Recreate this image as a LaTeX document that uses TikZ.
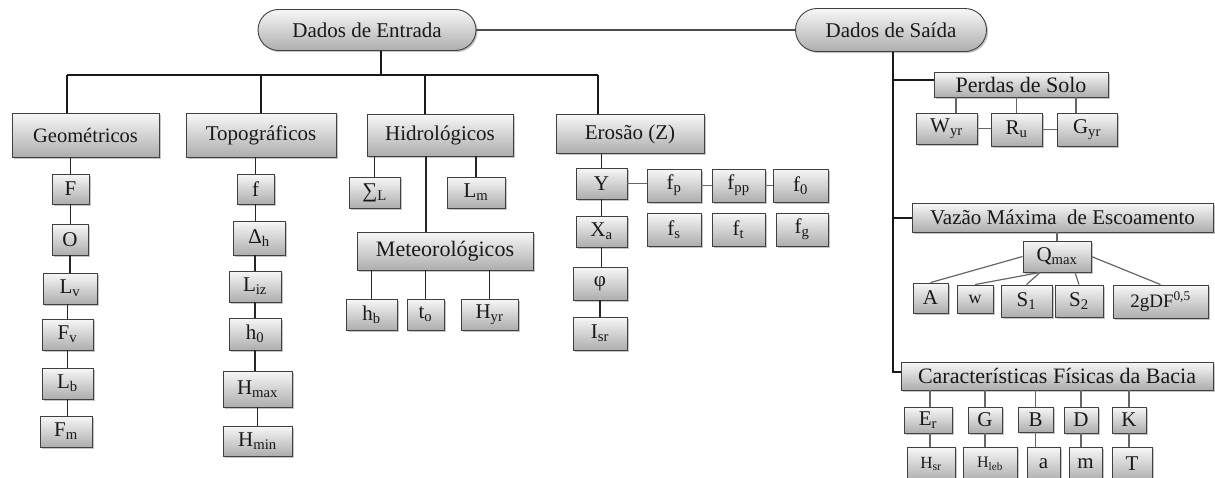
\documentclass[tikz,border=0pt]{standalone}
\usepackage{fontspec}
\setmainfont{Liberation Serif}
\usetikzlibrary{shapes.misc,shadows,calc}
\newcommand{\fsz}[1]{\fontsize{#1}{#1}\selectfont}
\begin{document}
\begin{tikzpicture}[x=1pt,y=-1pt,
  bx/.style={draw=black!75, line width=0.9pt, top color=black!3, bottom color=black!32,
    drop shadow={shadow xshift=1.6pt,shadow yshift=-1.6pt,opacity=0.45},
    inner sep=0pt, font=\fsz{21}, text=black!90},
  sz/.style 2 args={minimum width=#1 pt, minimum height=#2 pt},
  pill/.style={bx, rounded rectangle, rounded rectangle arc length=180},
  bus/.style={line width=2.2pt, black!90},
  chain/.style={line width=1.8pt, black!85},
  lnk/.style={line width=1.2pt, black!60}
]
\useasboundingbox (0,0) rectangle (1215,477);
\clip (0,0) rectangle (1215,477);

% top pills
\node[pill, sz={218}{41}] (din) at (367,30) {Dados de Entrada};
\node[pill, sz={191}{43}] (dout) at (891,30) {Dados de Saída};

% level 1
\node[bx, sz={147}{44}, font=\fsz{20.5}] (geo) at (85.5,135) {Geométricos};
\node[bx, sz={150}{44}] (topo) at (261,135) {Topográficos};
\node[bx, sz={146}{42}] (hid) at (440,135) {Hidrológicos};
\node[bx, sz={148}{39}] (ero) at (630,134) {Erosão (Z)};

% geometric children
\node[bx, sz={37}{30}] (F) at (70.5,189) {F};
\node[bx, sz={36}{31}] (O) at (70,239.5) {O};
\node[bx, sz={54}{31}] (Lv) at (70,288.5) {L\textsubscript{v}};
\node[bx, sz={51}{31}] (Fv) at (67.5,334.5) {F\textsubscript{v}};
\node[bx, sz={51}{31}] (Lb) at (67.5,383.5) {L\textsubscript{b}};
\node[bx, sz={52}{31}] (Fm) at (66,431.5) {F\textsubscript{m}};

% topographic children
\node[bx, sz={37}{30}] (f) at (255.5,189) {f};
\node[bx, sz={52}{34}] (dh) at (259,238) {Δ\textsubscript{h}};
\node[bx, sz={52}{31}] (liz) at (255,286.5) {L\textsubscript{iz}};
\node[bx, sz={52}{32}] (hz) at (255,334) {h\textsubscript{0}};
\node[bx, sz={69}{36}] (hmax) at (257.5,389) {H\textsubscript{max}};
\node[bx, sz={69}{30}] (hmin) at (257.5,441) {H\textsubscript{min}};

% hydrologic children
\node[bx, sz={51}{31}] (sig) at (374.5,192.5) {∑\textsubscript{L}};
\node[bx, sz={58}{31}] (lm) at (476,192.5) {L\textsubscript{m}};
\node[bx, sz={176}{38}, font=\fsz{22}] (met) at (445,251) {Meteorológicos};
\node[bx, sz={51}{31}] (hb) at (371.5,314.5) {h\textsubscript{b}};
\node[bx, sz={37}{31}] (to) at (425.5,314.5) {t\textsubscript{o}};
\node[bx, sz={57}{31}] (hyr) at (489.5,314.5) {H\textsubscript{yr}};

% erosion children
\node[bx, sz={51}{31}] (Y) at (601.5,183.5) {Y};
\node[bx, sz={51}{31}] (Xa) at (601.5,231.5) {X\textsubscript{a}};
\node[bx, sz={54}{33}] (phi) at (600,283.5) {φ};
\node[bx, sz={54}{33}] (isr) at (600,333.5) {I\textsubscript{sr}};
\node[bx, sz={54}{33}] (fp) at (674,185.5) {f\textsubscript{p}};
\node[bx, sz={53}{33}] (fpp) at (738.5,185.5) {f\textsubscript{pp}};
\node[bx, sz={55}{33}] (fz) at (800.5,185.5) {f\textsubscript{0}};
\node[bx, sz={54}{33}] (fs) at (674,229.5) {f\textsubscript{s}};
\node[bx, sz={53}{33}] (ft) at (738.5,229.5) {f\textsubscript{t}};
\node[bx, sz={52}{33}] (fg) at (802,229.5) {f\textsubscript{g}};

% right side
\node[bx, sz={174}{25}, font=\fsz{22}] (perdas) at (1021,84.5) {Perdas de Solo};
\node[bx, sz={61}{31}] (wyr) at (946.5,128.5) {W\textsubscript{yr}};
\node[bx, sz={51}{33}] (ru) at (1016.5,129.5) {R\textsubscript{u}};
\node[bx, sz={60}{33}] (gyr) at (1087,129.5) {G\textsubscript{yr}};

\node[bx, sz={301}{29}] (vaz) at (1062.5,217.5) {Vazão Máxima\ \ de Escoamento};
\node[bx, sz={68}{31}] (qmax) at (1057,256.5) {Q\textsubscript{max}};
\node[bx, sz={35}{30}] (A) at (930.5,298) {A};
\node[bx, sz={36}{28}, font=\fsz{18}] (w) at (975,299) {w};
\node[bx, sz={51}{32}] (S1) at (1026.5,301) {S\textsubscript{1}};
\node[bx, sz={48}{32}] (S2) at (1079,301) {S\textsubscript{2}};
\node[bx, sz={95}{33}, font=\fsz{19}] (gdf) at (1160.5,301.5) {2gDF\textsuperscript{0,5}};

\node[bx, sz={312}{28}, font=\fsz{22}] (car) at (1057,376) {Características Físicas da Bacia};
\node[bx, sz={48}{26}] (Er) at (928,420) {E\textsubscript{r}};
\node[bx, sz={34}{26}] (G) at (985,420) {G};
\node[bx, sz={35}{25}] (B) at (1035.5,419.5) {B};
\node[bx, sz={34}{26}] (D) at (1081,420) {D};
\node[bx, sz={34}{26}] (K) at (1129,420) {K};
\node[bx, sz={48}{34}, font=\fsz{17}] (hsr) at (931,464) {H\textsubscript{sr}};
\node[bx, sz={54}{34}, font=\fsz{16}] (hleb) at (990,464) {H\textsubscript{leb}};
\node[bx, sz={33}{34}] (a) at (1043.5,464) {a};
\node[bx, sz={33}{34}] (m) at (1085.5,464) {m};
\node[bx, sz={40}{34}] (T) at (1132,464) {T};

% ---------- connectors ----------
\draw[line width=1.6pt, black!70] (din.east) -- (dout.west);

\coordinate (b0) at (381,75);
\coordinate (bl) at (67,75);
\coordinate (br) at (598,75);
\coordinate (bh) at (425,75);
\draw[bus] (din.south -| b0) -- (b0);
\draw[bus] (bl) -- (br);
\draw[bus] (bl) -- (bl |- geo.north);
\draw[bus] (topo.north |- bl) -- (topo.north);
\draw[bus] (bh) -- (bh |- hid.north);
\draw[bus] (br) -- (br |- ero.north);

% geometric chain
\draw[chain] (F.north |- geo.south) -- (F.north);
\draw[chain] (F.south) -- (F.south |- O.north);
\draw[chain] (O.south) -- (O.south |- Lv.north);
\draw[chain] (Fv.north |- Lv.south) -- (Fv.north);
\draw[chain] (Fv.south) -- (Fv.south |- Lb.north);
\draw[chain] (Lb.south) -- (Lb.south |- Fm.north);

% topographic chain
\draw[chain] (f.north |- topo.south) -- (f.north);
\draw[chain] (f.south) -- (f.south |- dh.north);
\draw[chain] (liz.north |- dh.south) -- (liz.north);
\draw[chain] (liz.south) -- (liz.south |- hz.north);
\draw[chain] (hz.south) -- (hz.south |- hmax.north);
\draw[chain] (hmax.south) -- (hmax.south |- hmin.north);

% hydrologic
\coordinate (hm) at (426,0);
\draw[chain] (sig.north |- hid.south) -- (sig.north);
\draw[chain] (lm.north |- hid.south) -- (lm.north);
\draw[chain] (hid.south -| hm) -- (met.north -| hm);
\draw[chain] (hb.north |- met.south) -- (hb.north);
\draw[chain] (to.north |- met.south) -- (to.north);
\draw[chain] (hyr.north |- met.south) -- (hyr.north);

% erosion
\draw[chain] (Y.north |- ero.south) -- (Y.north);
\draw[chain] (Y.south) -- (Y.south |- Xa.north);
\draw[chain] (phi.north -| Xa.south) -- (Xa.south);
\draw[chain] (phi.south) -- (phi.south |- isr.north);
\draw[lnk] (Y.east) -- (Y.east -| fp.west);
\draw[lnk] (fp.east) -- (fpp.west);
\draw[lnk] (fpp.east) -- (fz.west);

% right trunk
\coordinate (rv) at (893,372);
\coordinate (rp) at (893,80);
\coordinate (rq) at (893,218);
\draw[bus] (dout.south -| rv) -- (rv) -- (rv -| car.west);
\draw[bus] (rp) -- (rp -| perdas.west);
\draw[bus] (rq) -- (rq -| vaz.west);

% perdas children
\path ($(wyr.north)+(9.5,0)$) coordinate (pw);
\path ($(gyr.north)+(-11,0)$) coordinate (pg);
\draw[lnk] (pw |- perdas.south) -- (pw);
\draw[lnk] (ru.north |- perdas.south) -- (ru.north);
\draw[lnk] (pg |- perdas.south) -- (pg);
\draw[lnk] (wyr.east) -- (wyr.east -| ru.west);
\draw[lnk] (ru.east) -- (ru.east -| gyr.west);

% vazao
\draw[lnk] (qmax.north) -- (qmax.north |- vaz.south);
\draw[lnk] (qmax.west) -- (A.north);
\draw[lnk] ($(qmax.south)+(-17,0)$) -- (w.north);
\draw[lnk] ($(qmax.south)+(-17,0)$) -- (S1.north);
\draw[lnk] ($(qmax.south)+(18,0)$) -- (S2.north);
\draw[lnk] (qmax.east) -- (gdf.north);

% caracteristicas
\path ($(Er.north)+(2,0)$) coordinate (ce);
\draw[lnk] (ce |- car.south) -- (ce);
\draw[lnk] (ce |- Er.south) -- (ce |- hsr.north);
\draw[lnk] (G.north |- car.south) -- (G.north);
\draw[lnk] (G.south) -- (G.south |- hleb.north);
\draw[lnk] (B.north |- car.south) -- (B.north);
\draw[lnk] (B.south) -- (B.south |- a.north);
\draw[lnk] (D.north |- car.south) -- (D.north);
\draw[lnk] (D.south) -- (D.south |- m.north);
\draw[lnk] (K.north |- car.south) -- (K.north);
\draw[lnk] (K.south) -- (K.south |- T.north);
\end{tikzpicture}
\end{document}
